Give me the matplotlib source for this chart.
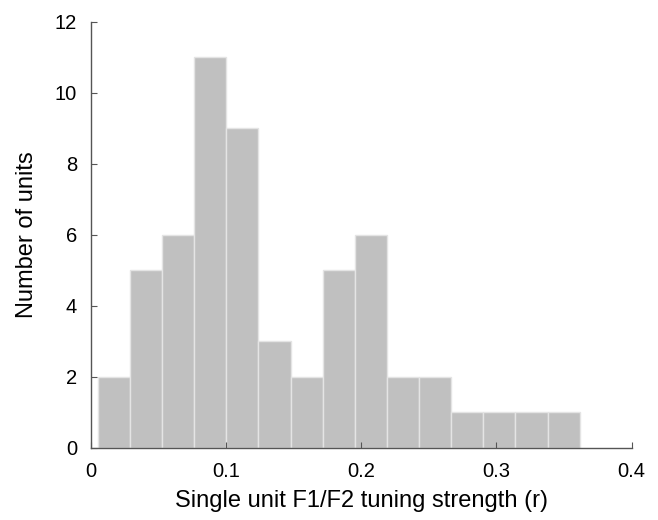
import numpy as np
import matplotlib
matplotlib.use("Agg")
import matplotlib.pyplot as plt

plt.rcParams["font.family"] = ["Liberation Sans", "DejaVu Sans"]

# histogram of tuning strength
counts = [2, 5, 6, 11, 9, 3, 2, 5, 6, 2, 2, 1, 1, 1, 1]
bin_lo, bin_hi = 0.0052, 0.3616
edges = np.linspace(bin_lo, bin_hi, len(counts) + 1)

fig = plt.figure(figsize=(6.58, 5.2), dpi=100)
ax = fig.add_axes([0.138, 0.139, 0.822, 0.819])

ax.bar(edges[:-1], counts, width=np.diff(edges), align="edge",
       color="#c0c0c0", edgecolor="#e4e4e4", linewidth=1.0)

ax.set_xlim(0, 0.4)
ax.set_ylim(0, 12)
ax.set_xticks([0, 0.1, 0.2, 0.3, 0.4])
ax.set_xticklabels(["0", "0.1", "0.2", "0.3", "0.4"])
ax.set_yticks(range(0, 13, 2))

for s in ["top", "right"]:
    ax.spines[s].set_visible(False)
for s in ["left", "bottom"]:
    ax.spines[s].set_color("#555555")
    ax.spines[s].set_linewidth(1.0)

ax.tick_params(direction="in", length=4, color="#555555", labelsize=14.5, pad=10)

ax.set_xlabel("Single unit F1/F2 tuning strength (r)", fontsize=17, labelpad=7)
ax.set_ylabel("Number of units", fontsize=17, labelpad=12)

fig.savefig("out.png", dpi=100)
